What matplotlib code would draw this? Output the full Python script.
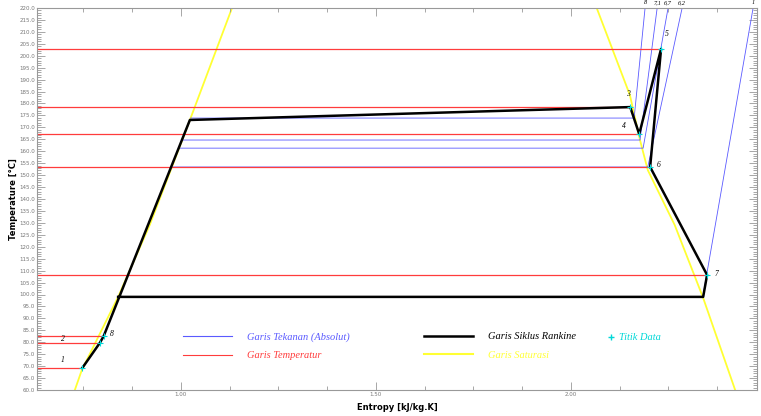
import matplotlib
matplotlib.use("Agg")
import matplotlib.pyplot as plt
from matplotlib.ticker import MultipleLocator, FormatStrFormatter
from matplotlib.lines import Line2D

# cycle state points (entropy kJ/kg.K, temperature C)
point_names = ["1", "2", "8", "3", "4", "5", "6", "7"]
point_s = [0.747, 0.792, 0.802, 2.152, 2.175, 2.231, 2.203, 2.349]
point_T = [69.2, 79.7, 82.6, 178.5, 167.2, 202.8, 153.4, 108.2]

# rankine cycle path
cycle_s = [0.747, 0.792, 0.802, 1.023, 2.152, 2.175, 2.231, 2.203, 2.349, 2.339, 0.839]
cycle_T = [69.2, 79.7, 82.6, 173.1, 178.5, 167.2, 202.8, 153.4, 108.2, 99.0, 99.0]

# saturation dome (liquid side, vapour side)
satl_s = [0.728, 0.746, 0.839, 0.920, 1.023, 1.131]
satl_T = [60.0, 68.4, 99.0, 129.1, 173.1, 220.0]
satv_s = [2.066, 2.151, 2.177, 2.197, 2.266, 2.338, 2.421]
satv_T = [220.0, 183.6, 164.7, 152.1, 129.1, 99.0, 60.0]

# isobars: saturation temp, liquid s, vapour s, s at top of chart
iso_labels = ["8", "7,1", "6,7", "6,2", "1"]
iso_Tsat = [173.9, 164.7, 161.3, 153.4, 99.0]
iso_sl = [1.025, 1.003, 0.995, 0.977, 0.839]
iso_sv = [2.162, 2.177, 2.185, 2.197, 2.338]
iso_stop = [2.190, 2.221, 2.249, 2.285, 2.467]

fig = plt.figure(figsize=(7.61, 4.16), dpi=100)
ax = fig.add_axes([37 / 761, 26 / 416, 720 / 761, 382 / 416])

blue = "#5a5aff"
red = "#ff3c3c"
yellow = "#ffff33"
black = "#000000"
cyan = "#00d8d8"

# saturation lines
ax.plot(satl_s, satl_T, color=yellow, lw=1.3, zorder=1)
ax.plot(satv_s, satv_T, color=yellow, lw=1.3, zorder=1)

# isobars
for i in range(len(iso_labels)):
    xs = [iso_sl[i], iso_sv[i], iso_stop[i]]
    ys = [iso_Tsat[i], iso_Tsat[i], 220]
    ax.plot(xs, ys, color=blue, lw=0.6, zorder=2)
    ax.text(iso_stop[i], 221.3, iso_labels[i], fontsize=4.5, style="italic",
            family="Liberation Serif", ha="center", va="bottom")

# isotherms through state points
for s, T in zip(point_s, point_T):
    ax.plot([0.631, s], [T, T], color=red, lw=0.9, zorder=2)

ax.plot(cycle_s, cycle_T, color=black, lw=1.8, zorder=3)
ax.plot(point_s, point_T, ls="none", marker="+", ms=4, mew=0.8, color=cyan, zorder=4)

# point labels
offsets = {"1": (0, 3.5), "2": (0, 1.5), "8": (0.02, 1.0), "3": (-0.005, 5.5),
           "4": (-0.04, 3.5), "5": (0.015, 6.5), "6": (0.022, 1.0), "7": (0.025, 0.5)}
for n, s, T in zip(point_names, point_s, point_T):
    dx, dy = offsets[n]
    if n in ("1", "2"):
        sx = 0.698
    else:
        sx = s + dx
    ax.text(sx, T + dy, n, fontsize=5.5, style="italic", family="Liberation Serif",
            ha="center", va="center")

ax.set_xlim(0.631, 2.477)
ax.set_ylim(60, 220)
ax.xaxis.set_major_locator(MultipleLocator(0.5))
ax.xaxis.set_minor_locator(MultipleLocator(0.125))
ax.yaxis.set_major_locator(MultipleLocator(5))
ax.yaxis.set_minor_locator(MultipleLocator(1))
ax.xaxis.set_major_formatter(FormatStrFormatter("%.2f"))
ax.yaxis.set_major_formatter(FormatStrFormatter("%.1f"))
ax.tick_params(which="both", direction="in", top=True, right=True, pad=1.5,
               labelsize=4, labelcolor="#777777", color="#999999", width=0.6)
ax.tick_params(which="major", length=6)
ax.tick_params(which="minor", length=3)
for sp in ax.spines.values():
    sp.set_color("#999999")
    sp.set_linewidth(0.8)

ax.set_xlabel("Entropy [kJ/kg.K]", fontsize=6, fontweight="bold", labelpad=4)
ax.set_ylabel("Temperature [\u00b0C]", fontsize=6, fontweight="bold", labelpad=1)

leg_font = {"family": "Liberation Serif", "style": "italic", "size": 7.5}
handles = [
    Line2D([], [], color=blue, lw=0.8),
    Line2D([], [], color=red, lw=0.8),
    Line2D([], [], color=black, lw=1.8),
    Line2D([], [], color=yellow, lw=1.5),
]
labels = ["Garis Tekanan (Absolut)", "Garis Temperatur", "Garis Siklus Rankine",
          "Garis Saturasi"]
leg = ax.legend(handles, labels, ncol=2, loc="center left", bbox_to_anchor=(0.19, 0.115),
                frameon=False, handlelength=4.7, columnspacing=7.2, handletextpad=1.4,
                labelspacing=0.9, labelcolor="linecolor", prop=leg_font)
ax.add_artist(leg)
ax.legend([Line2D([], [], color=cyan, ls="none", marker="+", ms=4)], ["Titik Data"],
          loc="center left", bbox_to_anchor=(0.778, 0.137), frameon=False,
          handlelength=0.8, handletextpad=0.4, labelcolor="linecolor", prop=leg_font)

fig.savefig("out.png", dpi=100)
